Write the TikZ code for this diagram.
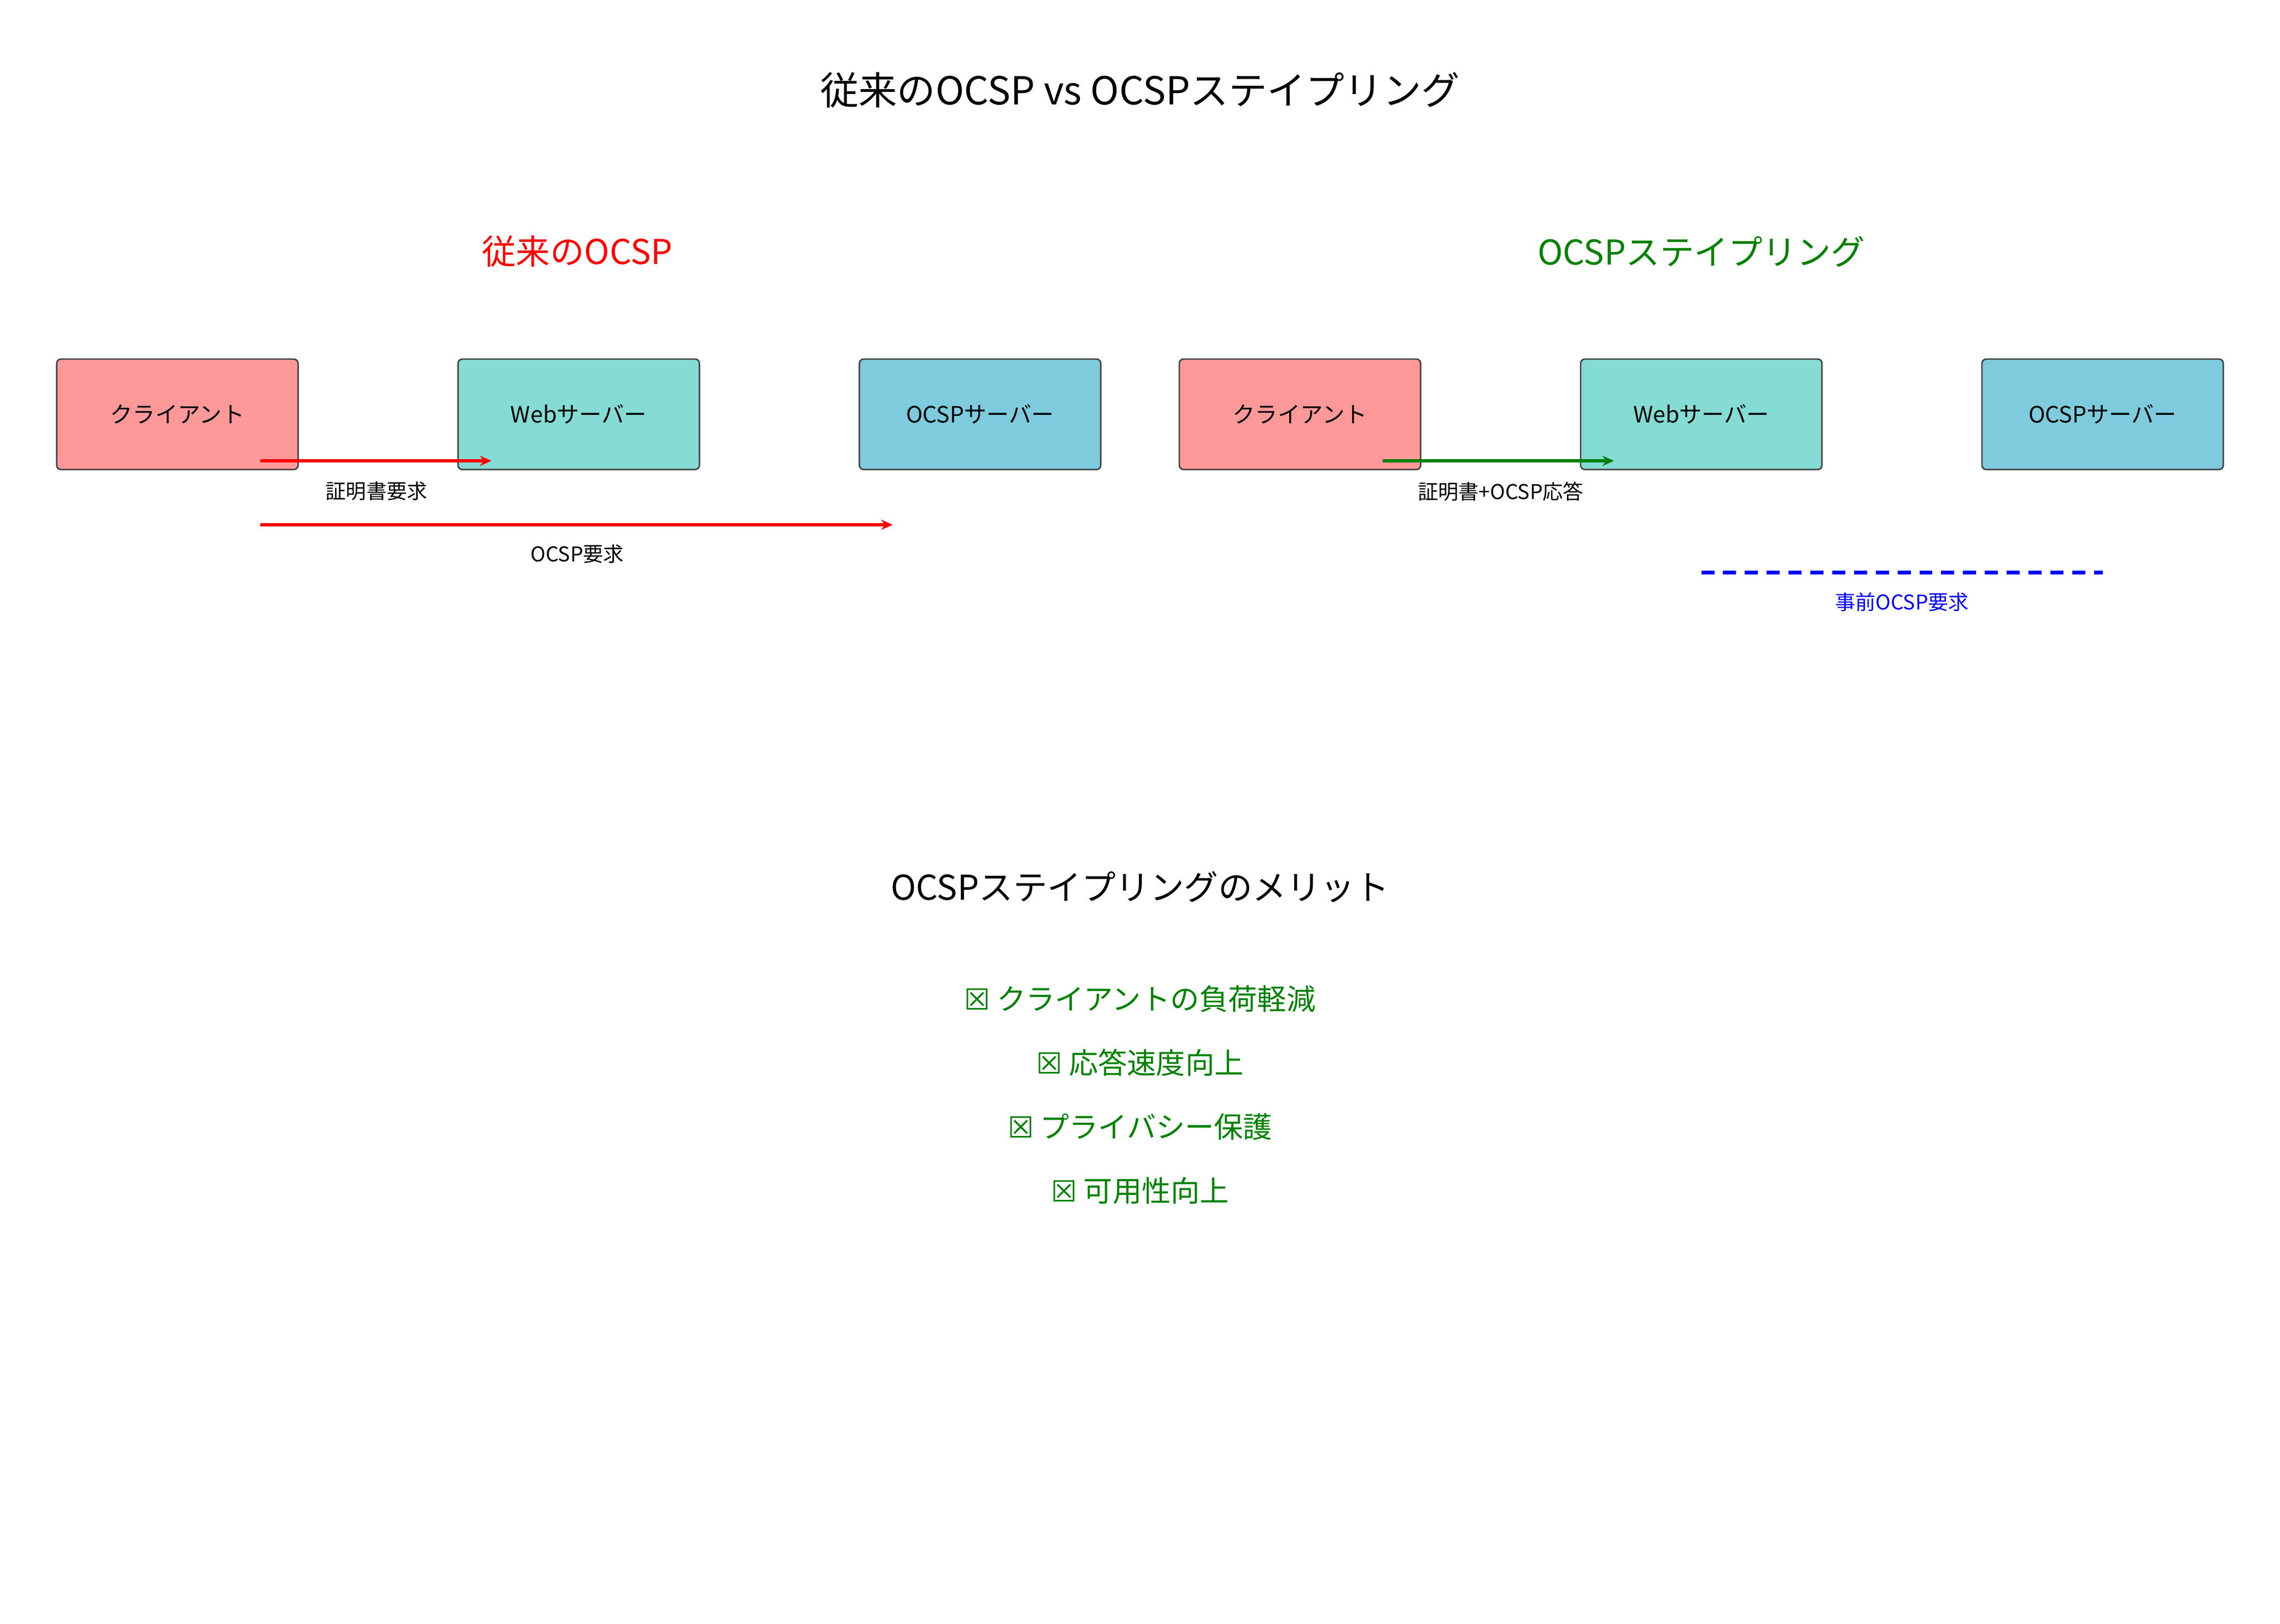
\documentclass[tikz,border=0pt]{standalone}
\usepackage{fontspec}
\usetikzlibrary{arrows.meta}
\setmainfont{Noto Sans CJK JP}
\newfontfamily\symfont{DejaVu Sans}
\definecolor{cpink}{HTML}{FF9999}
\definecolor{cteal}{HTML}{84DCD4}
\definecolor{cblue}{HTML}{7ECBDE}
\definecolor{cgreen}{HTML}{008000}
\begin{document}
\begin{tikzpicture}[x=1pt,y=-1pt,
  box/.style={draw=black!75,line width=1pt,rounded corners=3pt,minimum width=166pt,minimum height=76pt,font=\fontsize{15.5}{18}\selectfont},
  lbl/.style={font=\fontsize{14}{16}\selectfont},
  arr/.style={line width=2.4pt,-{Stealth[length=8pt,width=7pt]}},
  item/.style={text=cgreen,font=\fontsize{20}{24}\selectfont}]
\useasboundingbox (0,0) rectangle (1568,1117);
\node (title) at (784,62) {\fontsize{26.5}{30}\selectfont 従来のOCSP vs OCSPステイプリング};
\node[text=red] (st1) at (397,173) {\fontsize{23.5}{28}\selectfont 従来のOCSP};
\node[text=cgreen] (st2) at (1170,173) {\fontsize{23.5}{28}\selectfont OCSPステイプリング};
\node[box,fill=cpink] (c1) at (122,285) {クライアント};
\node[box,fill=cteal] (w1) at (398,285) {Webサーバー};
\node[box,fill=cblue] (o1) at (674,285) {OCSPサーバー};
\node[box,fill=cpink] (c2) at (894,285) {クライアント};
\node[box,fill=cteal] (w2) at (1170,285) {Webサーバー};
\node[box,fill=cblue] (o2) at (1446,285) {OCSPサーバー};
\coordinate (a1s) at (179,317); \coordinate (a1e) at (338,317);
\coordinate (a2s) at (179,361); \coordinate (a2e) at (614,361);
\coordinate (a3s) at (951,317); \coordinate (a3e) at (1110,317);
\coordinate (a4s) at (1170,394); \coordinate (a4e) at (1446,394);
\draw[arr,red] (a1s) -- (a1e);
\draw[arr,red] (a2s) -- (a2e);
\draw[arr,cgreen] (a3s) -- (a3e);
\draw[blue,line width=2.6pt,dash pattern=on 9pt off 6pt] (a4s) -- (a4e);
\node[lbl] at (259,338) {証明書要求};
\node[lbl] at (397,381) {OCSP要求};
\node[lbl] at (1032,338) {証明書+OCSP応答};
\node[lbl,text=blue] at (1308,414) {事前OCSP要求};
\node (mt) at (784,610) {\fontsize{23.5}{28}\selectfont OCSPステイプリングのメリット};
\node[item] at (784,687) {{\symfont ☒} クライアントの負荷軽減};
\node[item] at (784,731) {{\symfont ☒} 応答速度向上};
\node[item] at (784,775) {{\symfont ☒} プライバシー保護};
\node[item] at (784,819) {{\symfont ☒} 可用性向上};
\end{tikzpicture}
\end{document}
